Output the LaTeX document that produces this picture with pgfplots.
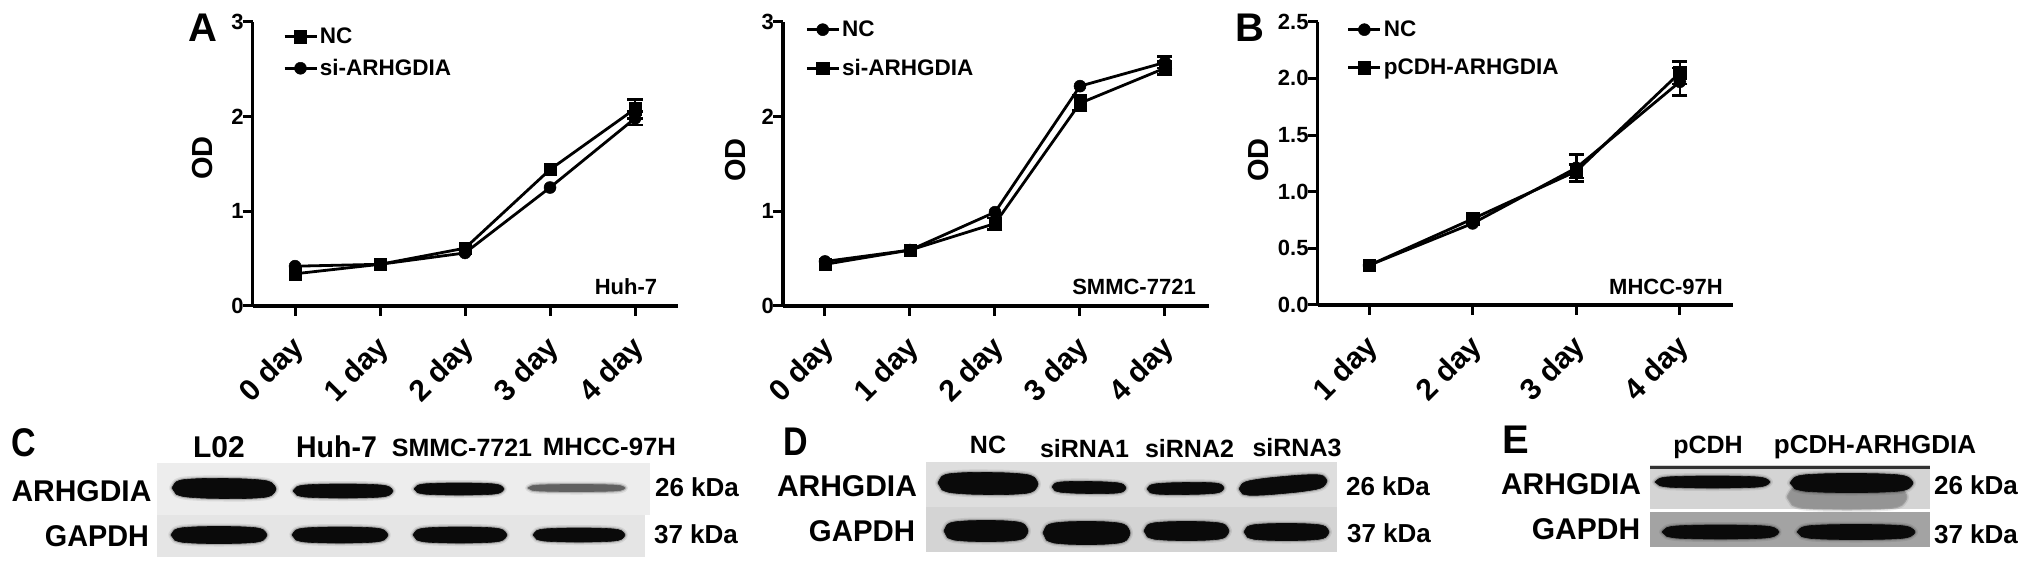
\documentclass[border=0pt]{standalone}
\usepackage{fontspec}
\usepackage{pgfplots}
\pgfplotsset{compat=1.18}
\setmainfont{Liberation Sans}
\newcommand\F[1]{\fontsize{#1}{#1}\selectfont\bfseries}
\newcommand\TT[4]{\node[inner sep=0pt,anchor=center] at (axis cs:#1,#2) {\F{#3}#4};}
\newcommand\TR[4]{\node[inner sep=0pt,anchor=center,rotate=90] at (axis cs:#1,#2) {\F{#3}#4};}
\newcommand\TS[5]{\node[inner sep=0pt,anchor=center] at (axis cs:#1,#2) {\F{#3}\scalebox{#4}[1]{#5}};}
\newcommand\bg[5]{\addplot[fill=#5,draw=none,forget plot] coordinates {(#1,#2)(#3,#2)(#3,#4)(#1,#4)} -- cycle;}
% blot band outline: left x, right x, y at left, y at right, thickness, colour
\newcommand\pt[3]{\pgfmathsetmacro\px{\ba+#1*(\bb-\ba)}\pgfmathsetmacro\py{\byl+#1*(\byr-\byl)+#3*#2*\bw/2}\edef\bandpts{\bandpts(\px,\py)}}
\newcommand\band[6]{%
 \def\ba{#1}\def\bb{#2}\def\byl{#3}\def\byr{#4}\def\bw{#5}\def\bandpts{}%
 \pt{0}{0}{1}\pt{.04}{.62}{-1}\pt{.12}{.86}{-1}\pt{.3}{.98}{-1}\pt{.5}{1}{-1}\pt{.7}{.98}{-1}\pt{.88}{.86}{-1}\pt{.96}{.62}{-1}%
 \pt{1}{0}{1}\pt{.96}{.62}{1}\pt{.88}{.86}{1}\pt{.7}{.98}{1}\pt{.5}{1}{1}\pt{.3}{.98}{1}\pt{.12}{.86}{1}\pt{.04}{.62}{1}%
 \edef\tmp{\noexpand\addplot[smooth,line join=round,draw=black,line width=6pt,opacity=.08,forget plot] coordinates {\bandpts} -- cycle;}\tmp
 \edef\tmp{\noexpand\addplot[smooth,line join=round,draw=black,line width=3pt,opacity=.18,forget plot] coordinates {\bandpts} -- cycle;}\tmp
 \edef\tmp{\noexpand\addplot[smooth,line join=round,fill=#6,draw=#6,line width=.6pt,forget plot] coordinates {\bandpts} -- cycle;}\tmp
}
\definecolor{bd}{gray}{0.04}
\pgfplotsset{
 odaxis/.style={
  scale only axis,
  axis x line=bottom, axis y line=left, axis line style={-,line width=3.2pt,black},
  major tick length=10pt, tick align=outside,
  major tick style={line width=3pt,black},
  xtick pos=bottom, ytick pos=left,
  tick label style={font=\F{22},/pgf/number format/assume math mode=true},
  yticklabel style={inner sep=0pt,xshift=1pt},
  xticklabel style={font=\F{30},rotate=45,anchor=north east,inner sep=0pt,xshift=-16pt,yshift=-9pt},
  clip=false,
  legend cell align=left,
  legend image code/.code={\draw[#1,mark repeat=2,mark phase=2] plot coordinates {(0pt,0pt)(16pt,0pt)(32pt,0pt)};},
  legend style={draw=none,fill=none,inner sep=0pt,anchor=north west,font=\F{22.5},row sep=12pt,/tikz/every even column/.append style={column sep=13pt}},
 },
 sq/.style={black,line width=2.8pt,mark=square*,mark size=6.2pt,mark options={solid,fill=black,line width=.5pt}},
 ci/.style={black,line width=2.8pt,mark=*,mark size=6pt,mark options={solid,fill=black,line width=.5pt}},
 eb/.style={draw=none,mark=none,forget plot,
   error bars/.cd,y dir=both,y explicit,error bar style={line width=2.6pt,black},error mark options={rotate=90,mark size=7.5pt,line width=2.6pt,black}},
}
\begin{document}
\begin{tikzpicture}
\path[use as bounding box] (0pt,0pt) rectangle (2031pt,572pt);
\begin{axis}[at={(0pt,0pt)},anchor=south west,scale only axis,width=2031pt,height=572pt,
 xmin=0,xmax=2031,ymin=0,ymax=572,y dir=reverse,hide axis,clip=false]
% Blot C
\bg{157}{463}{650}{515}{black!7}
\bg{157}{515}{645}{557}{black!10}
\band{172}{276}{488}{489}{20}{bd}
\band{293}{393}{491}{491}{14}{bd}
\band{414}{504}{489}{489}{12}{bd}
\band{528}{625}{488}{488}{7}{black!62}
\band{171}{267}{535}{535}{17}{bd}
\band{292}{388}{535}{535}{16}{bd}
\band{413}{507}{535}{535}{16}{bd}
\band{533}{625}{535}{535}{14}{bd}
% Blot D
\bg{926}{462}{1337}{507}{black!13}
\bg{926}{507}{1337}{552}{black!17}
\band{938}{1038}{483}{484}{22}{bd}
\band{1052}{1126}{487}{488}{12}{bd}
\band{1147}{1224}{489}{488}{12}{bd}
\band{1239}{1327}{489}{481}{17}{bd}
\band{944}{1028}{531}{531}{21}{bd}
\band{1043}{1130}{533}{533}{23}{bd}
\band{1144}{1229}{531}{531}{19}{bd}
\band{1244}{1329}{532}{532}{17}{bd}
% Blot E
\bg{1650}{465}{1930}{509}{black!17}
\bg{1650}{512}{1930}{547}{black!36}
\band{1788}{1906}{497}{497}{24}{black!42}
\addplot[line width=3pt,color=black!80,forget plot] coordinates {(1650,467)(1930,467)};
\band{1655}{1770}{482}{482}{12}{bd}
\band{1790}{1913}{483}{483}{19}{bd}
\band{1662}{1779}{532}{532}{14}{bd}
\band{1797}{1915}{532}{532}{15}{bd}
% panel letters
\TT{203}{28}{40}{A}
\TT{1250}{28}{40}{B}
\TS{24}{443}{40}{.85}{C}
\TS{796}{442}{40}{.85}{D}
\TT{1516}{440}{40}{E}
% OD labels
\TR{203}{158}{29}{OD}
\TR{736}{160}{29}{OD}
\TR{1258}{160}{29}{OD}
% cell line names
\TT{626}{287}{22}{Huh-7}
\TT{1134}{287}{22}{SMMC-7721}
\TT{1666}{287}{22}{MHCC-97H}
% C
\TT{219}{447}{30}{L02}
\TS{336.5}{447}{30}{.95}{Huh-7}
\TT{462}{448}{25}{SMMC-7721}
\TS{609.5}{447}{25}{1.03}{MHCC-97H}
\TT{81.5}{491}{30}{ARHGDIA}
\TS{97}{536}{30}{.96}{GAPDH}
\TT{697}{487}{26}{26 kDa}
\TT{696}{534}{26}{37 kDa}
% D
\TT{988}{445}{25}{NC}
\TT{1084.5}{449}{25}{siRNA1}
\TT{1189.5}{449}{25}{siRNA2}
\TT{1297}{448}{25}{siRNA3}
\TT{847}{486}{30}{ARHGDIA}
\TS{862}{531}{30}{.98}{GAPDH}
\TT{1388}{486}{26}{26 kDa}
\TT{1389}{533}{26}{37 kDa}
% E
\TT{1708}{447}{25}{pCDH}
\TT{1875}{447}{26}{pCDH-ARHGDIA}
\TT{1571}{484}{30}{ARHGDIA}
\TT{1586}{529}{30}{GAPDH}
\TT{1976}{485}{26}{26 kDa}
\TT{1976}{534}{26}{37 kDa}
\end{axis}

% Huh-7
\begin{axis}[odaxis,at={(252.7pt,266pt)},anchor=south west,width=425.3pt,height=284.3pt,
 xmin=-0.498,xmax=4.506,ymin=0,ymax=3,xtick={0,1,2,3,4},ytick={0,1,2,3},
 xticklabels={0 day,1 day,2 day,3 day,4 day},
 legend style={at={(0.071,0.985)},row sep=10pt}]
\addplot+[eb] coordinates {(4,2.08)+-(0,0.10)};
\addplot+[eb] coordinates {(4,1.98)+-(0,0.07)};
\addplot+[sq] coordinates {(0,0.34)(1,0.44)(2,0.61)(3,1.44)(4,2.08)};
\addplot+[ci] coordinates {(0,0.42)(1,0.44)(2,0.56)(3,1.25)(4,1.98)};
\legend{NC,si-ARHGDIA}
\end{axis}

% SMMC-7721
\begin{axis}[odaxis,at={(783pt,266pt)},anchor=south west,width=426pt,height=284.3pt,
 xmin=-0.494,xmax=4.518,ymin=0,ymax=3,xtick={0,1,2,3,4},ytick={0,1,2,3},
 xticklabels={0 day,1 day,2 day,3 day,4 day},
 legend style={at={(0.052,1.01)},row sep=17pt}]
\addplot+[eb] coordinates {(4,2.57)+-(0,0.06)};
\addplot+[eb] coordinates {(2,0.87)+-(0,0.06)(3,2.14)+-(0,0.08)(4,2.51)+-(0,0.07)};
\addplot+[ci] coordinates {(0,0.47)(1,0.59)(2,0.99)(3,2.32)(4,2.57)};
\addplot+[sq] coordinates {(0,0.44)(1,0.59)(2,0.87)(3,2.14)(4,2.51)};
\legend{NC,si-ARHGDIA}
\end{axis}

% MHCC-97H
\begin{axis}[odaxis,at={(1317.7pt,267pt)},anchor=south west,width=415pt,height=283.3pt,
 xmin=0.505,xmax=4.51,ymin=0,ymax=2.5,xtick={1,2,3,4},ytick={0,0.5,1,1.5,2,2.5},
 xticklabels={1 day,2 day,3 day,4 day},
 yticklabel style={/pgf/number format/.cd,fixed,fixed zerofill,precision=1},
 legend style={at={(0.07,1.01)},row sep=17pt}]
\addplot+[eb] coordinates {(3,1.21)+-(0,0.12)(4,1.97)+-(0,0.12)};
\addplot+[eb] coordinates {(3,1.18)+-(0,0.06)(4,2.05)+-(0,0.10)};
\addplot+[ci] coordinates {(1,0.35)(2,0.72)(3,1.21)(4,1.97)};
\addplot+[sq] coordinates {(1,0.35)(2,0.76)(3,1.18)(4,2.05)};
\legend{NC,pCDH-ARHGDIA}
\end{axis}
\end{tikzpicture}
\end{document}
